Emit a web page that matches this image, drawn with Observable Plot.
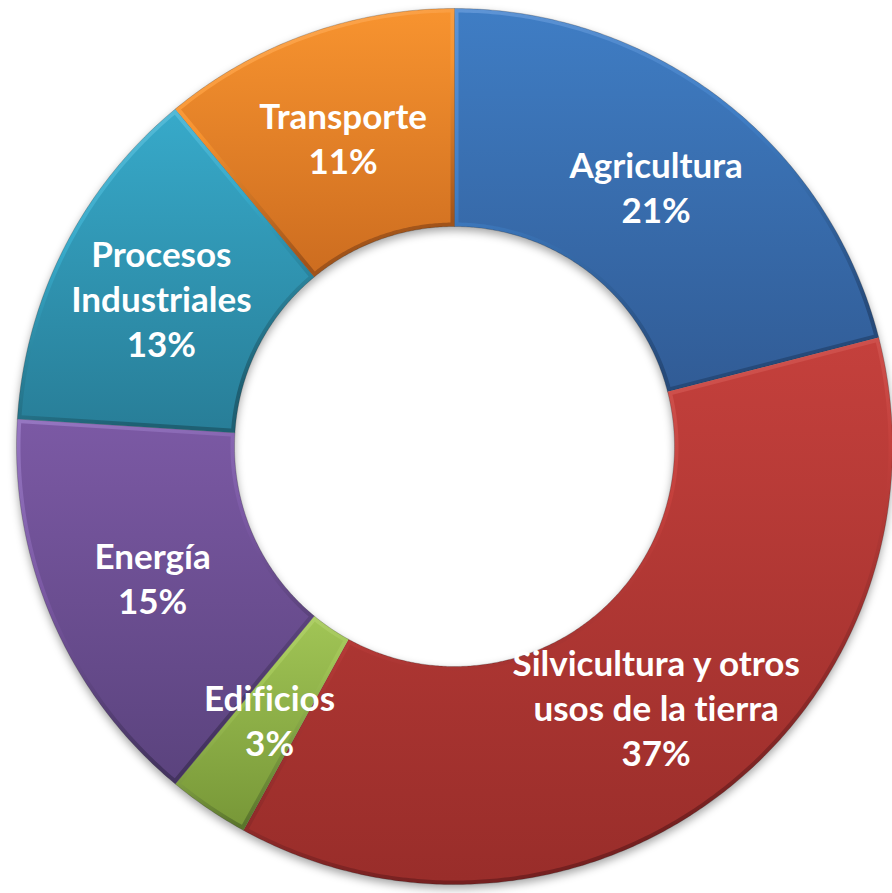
<!DOCTYPE html>
<html>
<head>
<meta charset="utf-8">
<script src="https://cdn.jsdelivr.net/npm/d3@7"></script>
<script src="https://cdn.jsdelivr.net/npm/@observablehq/plot@0.6"></script>
<style>
  html, body { margin: 0; padding: 0; background: #ffffff; }
  #chart svg { display: block; }
  #chart svg text { font-variant-ligatures: none; font-feature-settings: "liga" 0, "clig" 0; }
</style>
</head>
<body>
<div id="chart"></div>
<script>
// ---- data ----
const categories = [
  "Agricultura",
  "Silvicultura y otros usos de la tierra",
  "Edificios",
  "Energía",
  "Procesos Industriales",
  "Transporte"
];
const labelLines = [
  ["Agricultura"],
  ["Silvicultura y otros", "usos de la tierra"],
  ["Edificios"],
  ["Energía"],
  ["Procesos", "Industriales"],
  ["Transporte"]
];
const shares = [21, 37, 3, 15, 13, 11];

// ---- styles ----
const faceTop    = ["#3f7dc4", "#c4403c", "#a0c455", "#7b59a4", "#37a9c9", "#f7932f"];
const faceBottom = ["#315c96", "#992d2a", "#789838", "#5b437e", "#287e98", "#cd6d20"];
const rimLight   = ["#5f95d6", "#dc6762", "#bcd979", "#9677c2", "#62c2dd", "#ffb060"];
const rimDark    = ["#264a7a", "#752020", "#5a752c", "#443360", "#1e6073", "#a0531a"];

// ---- layout ----
const W = 892, H = 893;
const CX = 454, CY = 446, R = 438;
const INNER = 220 / R;
const BEVEL = 4 / R;

const rows = categories.map((name, i) => ({name, share: shares[i], lines: labelLines[i], i}));
const arcs = d3.pie().sort(null).value(d => d.share)(rows);

function ring(a0, a1, r0, r1, inset, fill, name) {
  const pts = [];
  const ro = r1 - inset, ri = r0 + inset;
  const oo = inset ? Math.asin(inset / ro) : 0;
  const oi = inset ? Math.asin(inset / ri) : 0;
  const ao0 = a0 + oo, ao1 = a1 - oo, ai0 = a0 + oi, ai1 = a1 - oi;
  const n = Math.max(4, Math.ceil((ao1 - ao0) / (Math.PI / 360)));
  for (let k = 0; k <= n; k++) {
    const a = ao0 + (ao1 - ao0) * k / n;
    pts.push({name, fill, x: ro * Math.sin(a), y: ro * Math.cos(a)});
  }
  for (let k = n; k >= 0; k--) {
    const a = ai0 + (ai1 - ai0) * k / n;
    pts.push({name, fill, x: ri * Math.sin(a), y: ri * Math.cos(a)});
  }
  return pts;
}

const rimPts = arcs.flatMap(a => ring(a.startAngle, a.endAngle, INNER, 1, 0, `url(#rim${a.data.i})`, a.data.name));
const facePts = arcs.flatMap(a => ring(a.startAngle, a.endAngle, INNER, 1, BEVEL, `url(#face${a.data.i})`, a.data.name));

const labelR = (1 + INNER) / 2;
const labels = arcs.map(a => {
  const m = (a.startAngle + a.endAngle) / 2;
  return {
    x: labelR * Math.sin(m),
    y: labelR * Math.cos(m),
    text: [...a.data.lines, `${a.data.share}%`].join("\n")
  };
});

const svg = Plot.plot({
  width: W,
  height: H,
  margin: 0,
  x: {domain: [-1, 1], range: [CX - R, CX + R], axis: null},
  y: {domain: [-1, 1], range: [CY + R, CY - R], axis: null},
  color: {type: "identity"},
  style: {background: "#ffffff"},
  marks: [
    Plot.line(rimPts, {x: "x", y: "y", z: "name", fill: "fill", stroke: "rgba(30,30,30,0.3)", strokeWidth: 0.8, curve: "linear"}),
    Plot.line(facePts, {x: "x", y: "y", z: "name", fill: "fill", stroke: null, curve: "linear"}),
    Plot.text(labels, {
      x: "x", y: "y", text: "text",
      fill: "#ffffff",
      fontSize: 35,
      fontWeight: "bold",
      fontFamily: "Lato, 'Open Sans', sans-serif",
      lineHeight: 45 / 35,
      lineAnchor: "middle",
      textAnchor: "middle"
    })
  ]
});

// gradients
const defs = d3.select(svg).insert("defs", ":first-child");
categories.forEach((c, i) => {
  const f = defs.append("linearGradient").attr("id", `face${i}`).attr("x1", 0).attr("y1", 0).attr("x2", 0).attr("y2", 1);
  f.append("stop").attr("offset", "0%").attr("stop-color", faceTop[i]);
  f.append("stop").attr("offset", "100%").attr("stop-color", faceBottom[i]);
  const r = defs.append("linearGradient").attr("id", `rim${i}`).attr("x1", 0).attr("y1", 0).attr("x2", 0.3).attr("y2", 1);
  r.append("stop").attr("offset", "0%").attr("stop-color", rimLight[i]);
  r.append("stop").attr("offset", "45%").attr("stop-color", faceTop[i]);
  r.append("stop").attr("offset", "100%").attr("stop-color", rimDark[i]);
});
d3.select(svg).select('g[aria-label="line"]').style("filter", "drop-shadow(0px 4px 4px rgba(0,0,0,0.35))");

document.getElementById("chart").appendChild(svg);
</script>
</body>
</html>
